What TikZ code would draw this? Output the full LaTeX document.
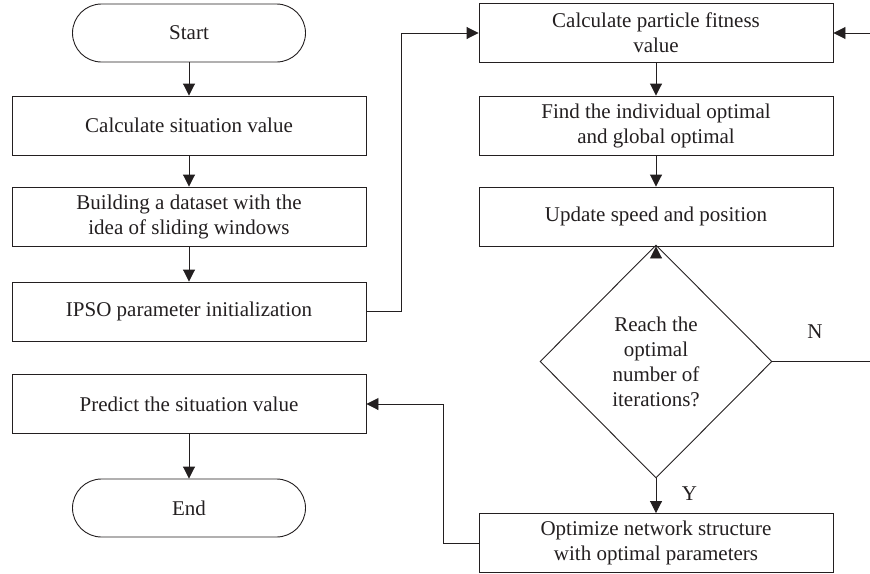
\documentclass[tikz,border=0pt]{standalone}
\usepackage{fontspec}
\setmainfont{Liberation Serif}
\usetikzlibrary{shapes.geometric,arrows.meta}
\definecolor{ink}{HTML}{231F20}
\begin{document}
\begin{tikzpicture}[x=1pt,y=-1pt,
  every node/.style={text=ink,font=\fontsize{21}{25}\selectfont,align=center},
  procbox/.style={draw=ink,line width=0.9pt,minimum width=354pt,minimum height=59pt,inner sep=0pt},
  termbox/.style={draw=ink,line width=0.9pt,rounded corners=29pt,minimum width=233pt,minimum height=58pt,inner sep=0pt},
  decbox/.style={draw=ink,line width=0.9pt,diamond,minimum width=232pt,minimum height=233pt,inner sep=0pt},
  link/.style={draw=ink,line width=0.9pt},
  arr/.style={link,-{Triangle[length=12pt,width=12pt]}}]
\useasboundingbox (0,0) rectangle (870,573);
% left column
\node[termbox] (start) at (189,33) {Start};
\node[procbox] (calc) at (189,125.5) {Calculate situation value};
\node[procbox] (build) at (189,216.5) {Building a dataset with the\\idea of sliding windows};
\node[procbox] (ipso) at (189,311.5) {IPSO parameter initialization};
\node[procbox] (pred) at (189,404) {Predict the situation value};
\node[termbox] (stop) at (189,508) {End};
% right column
\node[procbox] (fit) at (656,33) {Calculate particle fitness\\value};
\node[procbox] (find) at (656,125.5) {Find the individual optimal\\and global optimal};
\node[procbox] (upd) at (656,216.5) {Update speed and position};
\node[decbox] (dia) at (656,361.5) {Reach the\\optimal\\number of\\iterations?};
\node[procbox] (opt) at (656,543) {Optimize network structure\\with optimal parameters};
% loop-back corner just past the right margin
\coordinate (nloop) at (871.5,361.5);
% connectors
\draw[arr] (start) -- (calc);
\draw[arr] (calc) -- (build);
\draw[arr] (build) -- (ipso);
\draw[arr] (ipso.east) -- ++(35,0) |- (fit.west);
\draw[arr] (fit) -- (find);
\draw[arr] (find) -- (upd);
\draw[arr] ([yshift=-12pt]dia.north) -- (upd.south);
\draw[arr] (dia.south) -- (opt.north) node[pos=0.45,right=22pt] {Y};
\draw[arr] (dia.east) -- (nloop) |- (fit.east);
\node at (815,332) {N};
\draw[arr] (opt.west) -- ++(-35,0) |- (pred.east);
\draw[arr] (pred) -- (stop);
\end{tikzpicture}
\end{document}
